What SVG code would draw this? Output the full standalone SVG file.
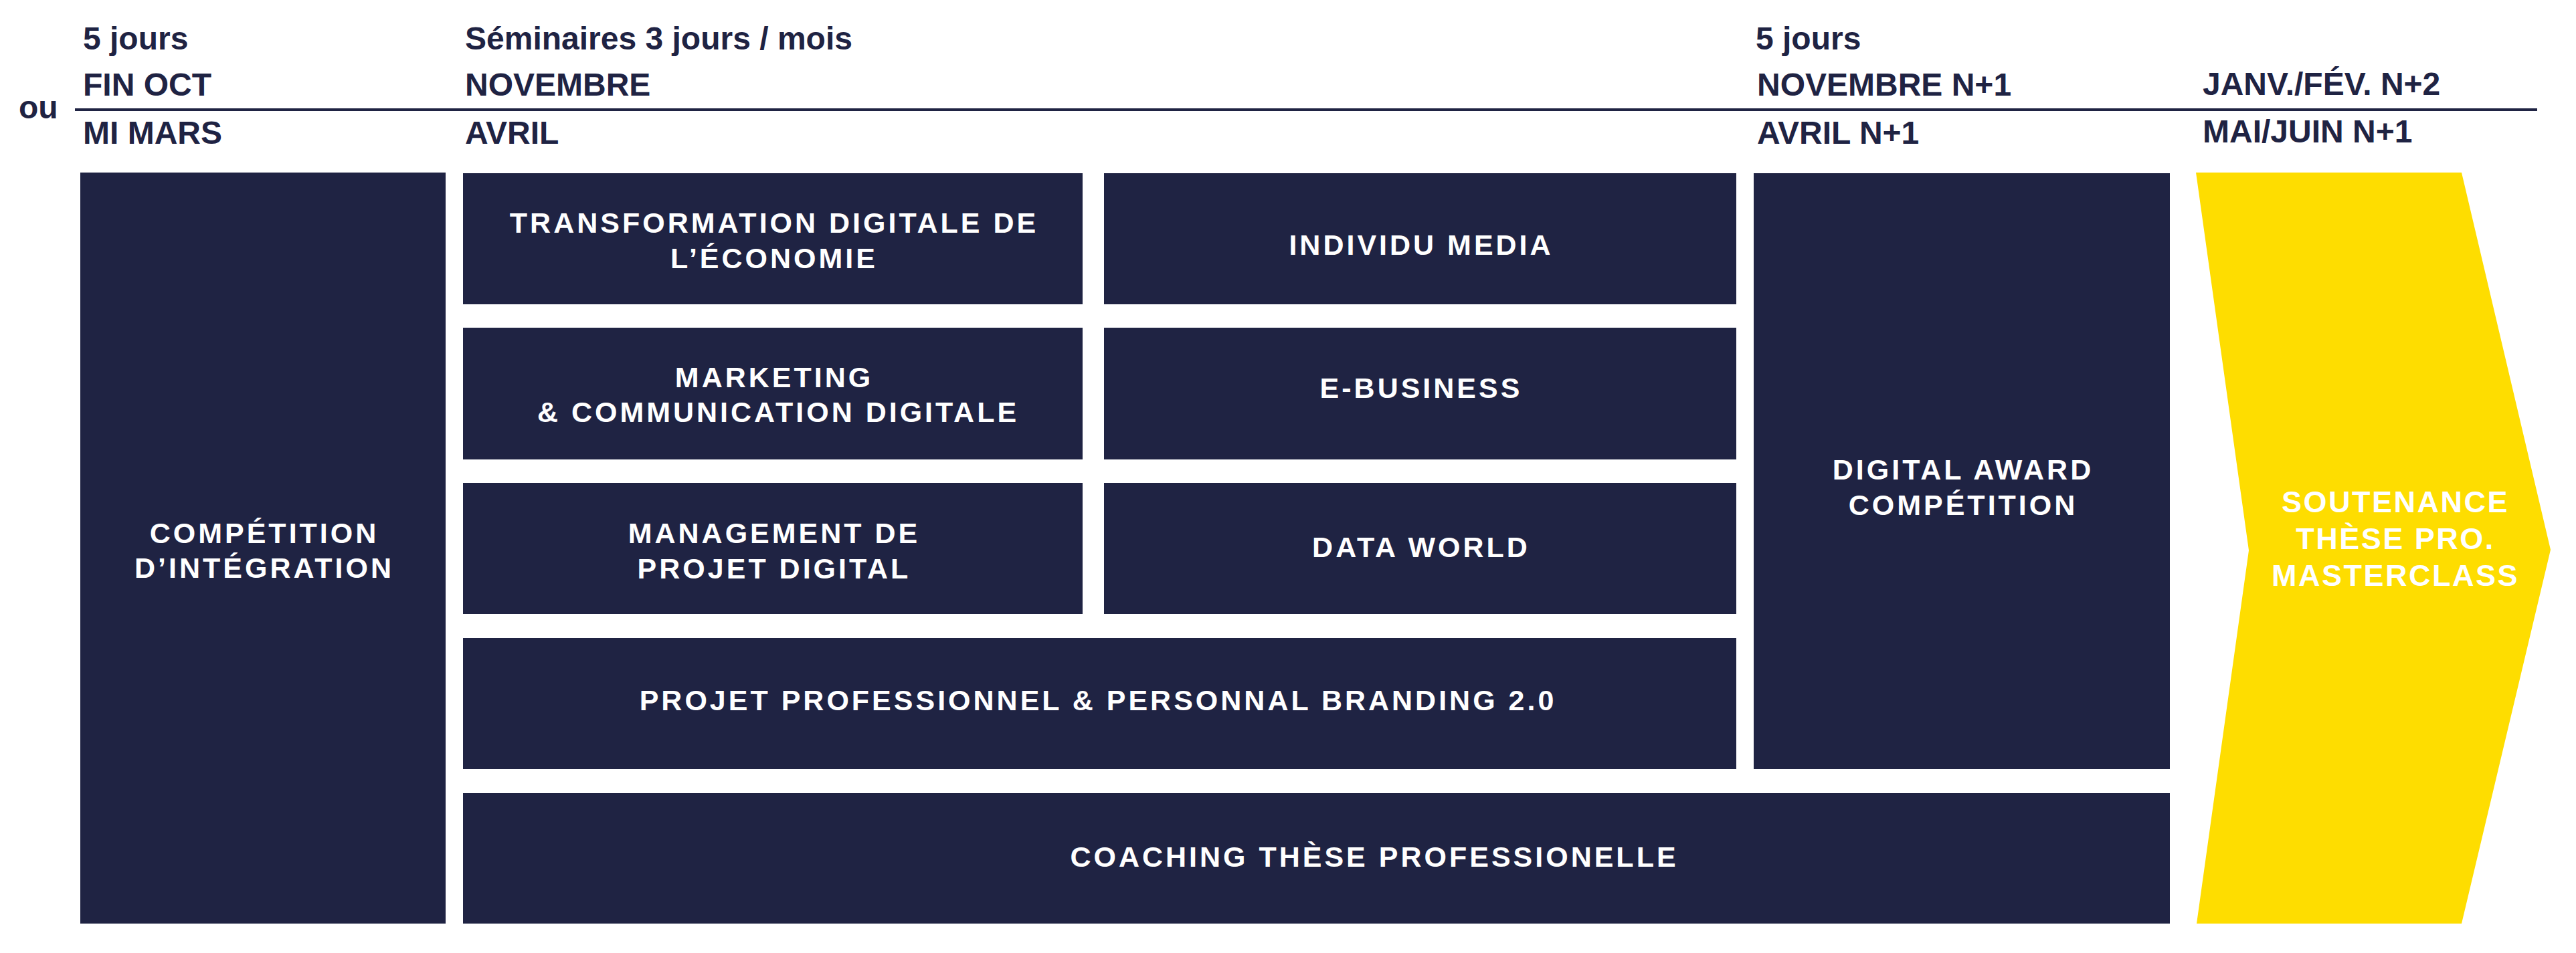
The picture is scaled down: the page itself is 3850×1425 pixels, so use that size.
<svg xmlns="http://www.w3.org/2000/svg" width="3850" height="1425" viewBox="0 0 3850 1425">
<style>
.hd{font-family:"Liberation Sans",Arial,sans-serif;font-weight:700;font-size:48px;fill:#1F2343}
.box{fill:#1F2343}
.lbl{font-family:"Liberation Sans",Arial,sans-serif;font-weight:700;font-size:43px;fill:#FFFFFF;text-anchor:middle;letter-spacing:4px}
.ylbl{font-family:"Liberation Sans",Arial,sans-serif;font-weight:700;font-size:45px;fill:#FFFFFF;text-anchor:middle;letter-spacing:2.5px}
</style>
<rect width="3850" height="1425" fill="#FFFFFF"/>
<g id="header">
<text class="hd" x="124" y="74">5 jours</text>
<text class="hd" x="124" y="143">FIN OCT</text>
<text class="hd" x="124" y="215">MI MARS</text>
<text class="hd" x="695" y="74">Séminaires 3 jours / mois</text>
<text class="hd" x="695" y="143">NOVEMBRE</text>
<text class="hd" x="695" y="215">AVRIL</text>
<text class="hd" x="2624" y="74">5 jours</text>
<text class="hd" x="2626" y="143">NOVEMBRE N+1</text>
<text class="hd" x="2626" y="215">AVRIL N+1</text>
<text class="hd" x="3292" y="142">JANV./FÉV. N+2</text>
<text class="hd" x="3292" y="213">MAI/JUIN N+1</text>
<text class="hd" x="28" y="177">ou</text>
<line x1="112" y1="164" x2="3792" y2="164" stroke="#1F2343" stroke-width="4"/>
</g>
<g id="connectors"></g>
<g id="competition-integration">
<rect class="box" x="120" y="258" width="546" height="1123"/>
<text class="lbl" x="395" y="812">COMPÉTITION</text>
<text class="lbl" x="395" y="864">D’INTÉGRATION</text>
</g>
<g id="transformation">
<rect class="box" x="692" y="259" width="926" height="196"/>
<text class="lbl" x="1157" y="348">TRANSFORMATION DIGITALE DE</text>
<text class="lbl" x="1157" y="401">L’ÉCONOMIE</text>
</g>
<g id="individu-media">
<rect class="box" x="1650" y="259" width="945" height="196"/>
<text class="lbl" x="2124" y="381">INDIVIDU MEDIA</text>
</g>
<g id="marketing">
<rect class="box" x="692" y="490" width="926" height="197"/>
<text class="lbl" x="1157" y="579">MARKETING</text>
<text class="lbl" x="1163" y="631">&amp; COMMUNICATION DIGITALE</text>
</g>
<g id="e-business">
<rect class="box" x="1650" y="490" width="945" height="197"/>
<text class="lbl" x="2124" y="595">E-BUSINESS</text>
</g>
<g id="management">
<rect class="box" x="692" y="722" width="926" height="196"/>
<text class="lbl" x="1157" y="812">MANAGEMENT DE</text>
<text class="lbl" x="1157" y="865">PROJET DIGITAL</text>
</g>
<g id="data-world">
<rect class="box" x="1650" y="722" width="945" height="196"/>
<text class="lbl" x="2124" y="833">DATA WORLD</text>
</g>
<g id="projet-pro">
<rect class="box" x="692" y="954" width="1903" height="196"/>
<text class="lbl" x="1641" y="1062">PROJET PROFESSIONNEL &amp; PERSONNAL BRANDING 2.0</text>
</g>
<g id="digital-award">
<rect class="box" x="2621" y="259" width="622" height="891"/>
<text class="lbl" x="2934" y="717">DIGITAL AWARD</text>
<text class="lbl" x="2934" y="770">COMPÉTITION</text>
</g>
<g id="coaching">
<rect class="box" x="692" y="1186" width="2551" height="195"/>
<text class="lbl" x="2054" y="1296">COACHING THÈSE PROFESSIONELLE</text>
</g>
<g id="soutenance">
<polygon points="3282,258 3679,258 3812,822 3679,1381 3283,1381 3361,823" fill="#FEDD00"/>
<text class="ylbl" x="3580" y="766">SOUTENANCE</text>
<text class="ylbl" x="3580" y="821">THÈSE PRO.</text>
<text class="ylbl" x="3580" y="876">MASTERCLASS</text>
</g>
</svg>
